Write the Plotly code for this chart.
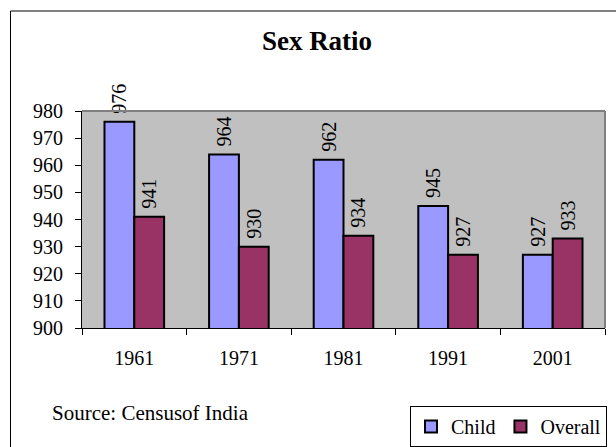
import plotly.graph_objects as go

years = ["1961", "1971", "1981", "1991", "2001"]
child = [976, 964, 962, 945, 927]
overall = [941, 930, 934, 927, 933]
y_ticks = [900, 910, 920, 930, 940, 950, 960, 970, 980]

FONT = "Liberation Serif, Times New Roman, serif"
NBSP = "\u00a0"

fig = go.Figure()
fig.add_trace(go.Bar(
    x=years, y=child, name="Child",
    marker=dict(color="#9999FF", line=dict(color="black", width=2)),
    text=[NBSP + str(v) for v in child], textposition="outside", textangle=-90,
    constraintext="none",
    textfont=dict(family=FONT, size=20, color="black"), cliponaxis=False,
))
fig.add_trace(go.Bar(
    x=years, y=overall, name="Overall",
    marker=dict(color="#993366", line=dict(color="black", width=2)),
    text=[NBSP + str(v) for v in overall], textposition="outside", textangle=-90,
    constraintext="none",
    textfont=dict(family=FONT, size=20, color="black"), cliponaxis=False,
))

W, H = 616, 447
L, R, T, B = 82, 11, 111, 119
pw, ph = W - L - R, H - T - B

def px(xp):
    return (xp - L) / pw

def py(yp):
    return (H - B - yp) / ph

fig.update_layout(
    width=W, height=H,
    margin=dict(l=L, r=R, t=T, b=B, autoexpand=False),
    paper_bgcolor="white", plot_bgcolor="#C0C0C0",
    font=dict(family=FONT, size=20, color="black"),
    barmode="group", bargap=0.43, bargroupgap=0,
    title=dict(text="<b>Sex Ratio</b>", x=317 / W, xref="container", xanchor="center",
               y=1 - 41 / H, yref="container", yanchor="middle",
               font=dict(family=FONT, size=27, color="black")),
    showlegend=True,
    legend=dict(orientation="h", x=px(607), xanchor="right", y=py(406), yanchor="top",
                bordercolor="black", borderwidth=1, bgcolor="white",
                font=dict(family=FONT, size=20, color="black"),
                itemwidth=30, traceorder="normal", tracegroupgap=0),
    xaxis=dict(type="category", showgrid=False, showline=True, linecolor="black", linewidth=1,
               ticks="outside", ticklen=6, tickcolor="black", tickson="boundaries",
               tickfont=dict(family=FONT, size=20), ticklabelstandoff=12),
    yaxis=dict(range=[900, 980], tickvals=y_ticks, showgrid=False, showline=True,
               linecolor="black", linewidth=1, ticks="outside", ticklen=6, tickcolor="black",
               tickfont=dict(family=FONT, size=20), zeroline=False, ticklabelstandoff=8),
    shapes=[
        dict(type="line", xref="paper", yref="paper", x0=0, x1=1, y0=1, y1=1,
             line=dict(color="#808080", width=2)),
        dict(type="line", xref="paper", yref="paper", x0=1, x1=1, y0=0, y1=1,
             line=dict(color="#808080", width=2)),
        dict(type="line", xref="paper", yref="paper", x0=px(10.5), x1=px(630), y0=py(11), y1=py(11),
             line=dict(color="black", width=1)),
        dict(type="line", xref="paper", yref="paper", x0=px(10.5), x1=px(10.5), y0=py(11), y1=py(460),
             line=dict(color="black", width=1)),
    ],
    annotations=[
        dict(text="Source: Censusof India", xref="paper", yref="paper", x=px(50), y=py(413),
             xanchor="left", yanchor="middle", showarrow=False,
             font=dict(family=FONT, size=21, color="black")),
    ],
)

fig.write_html("out.html", config={"displayModeBar": False},
               post_script="document.body.style.margin='0';document.body.style.overflow='hidden';")
